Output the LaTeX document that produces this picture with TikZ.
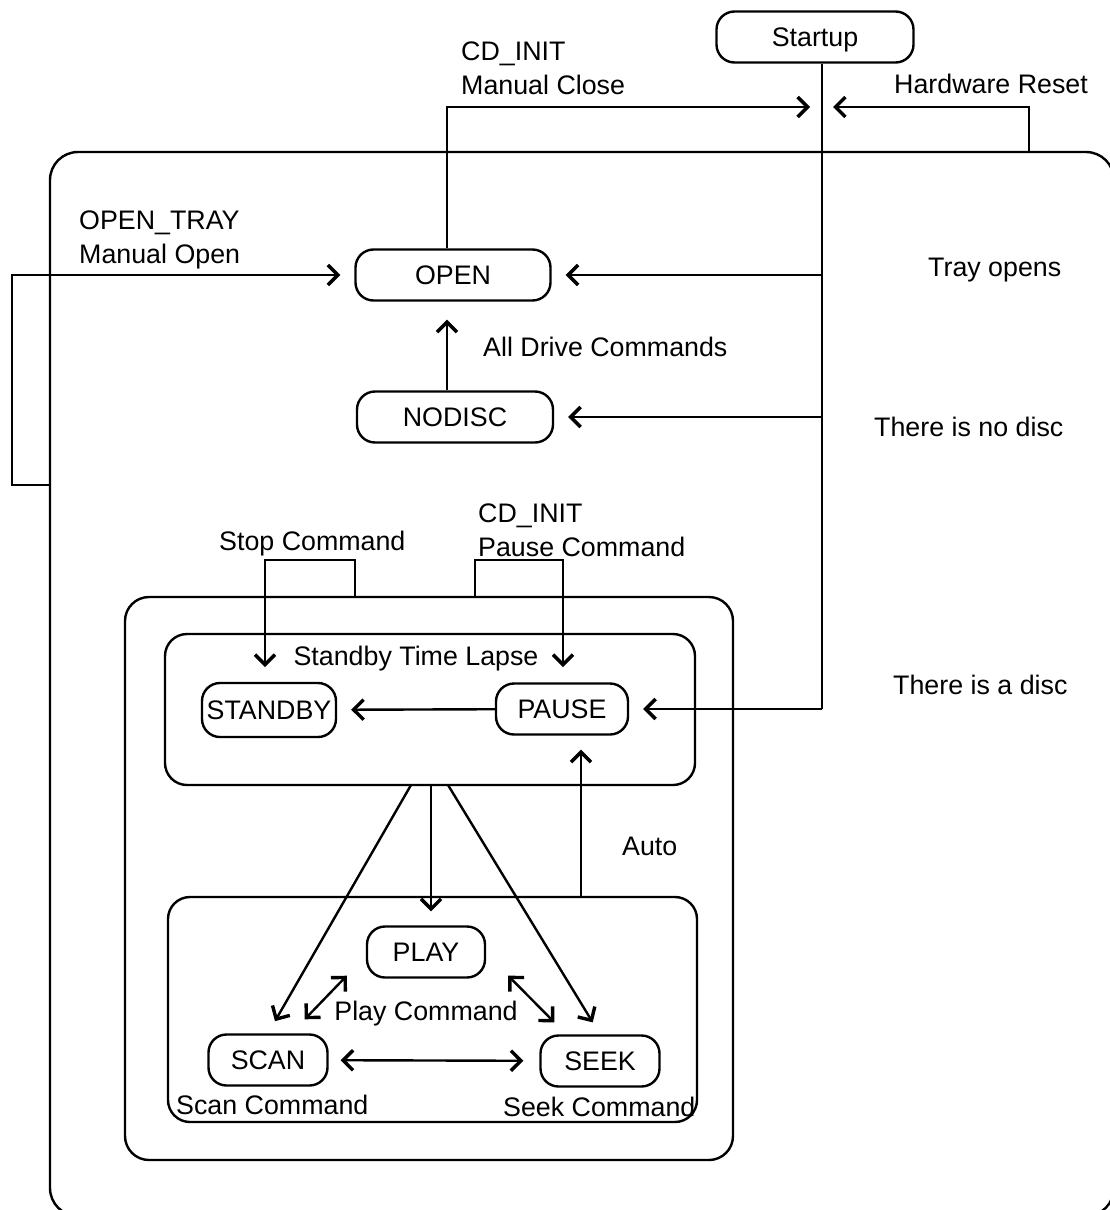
\documentclass[tikz,border=0pt]{standalone}
\usepackage{fontspec}
\setmainfont{Liberation Sans}
\usetikzlibrary{arrows.meta}

\begin{document}
\begin{tikzpicture}[x=0.5pt,y=-0.5pt,line width=1.2pt,
    >={Straight Barb[length=5pt,width=10pt,line width=1.7pt]},
    every node/.style={font=\fontsize{13.4}{17}\selectfont,inner sep=0pt},
    state/.style={draw,rounded corners=9pt,minimum height=25.5pt,
      text height=9.6pt,text depth=0pt},
    txt/.style={anchor=base west},
    gap/.style={shorten >=7pt}]
  \useasboundingbox (0,0) rectangle (1109,1210);
  % nested regions
  \draw[rounded corners=14pt] (50,152) rectangle (1114,1216);
  \draw[rounded corners=12pt] (125,597) rectangle (733,1160);
  \draw[rounded corners=11pt] (165,634) rectangle (695,785);
  \draw[rounded corners=11pt] (168,897) rectangle (697,1122);
  % states
  \node[state,minimum width=98.5pt] (startup) at (815,37) {Startup};
  \node[state,minimum width=97.5pt] (open) at (453,275) {OPEN};
  \node[state,minimum width=98pt] (nodisc) at (455,417) {NODISC};
  \node[state,minimum width=67pt,minimum height=27pt] (standby) at (269,710) {STANDBY};
  \node[state,minimum width=66pt] (pause) at (562,709) {PAUSE};
  \node[state,minimum width=59pt] (play) at (426,952) {PLAY};
  \node[state,minimum width=59.5pt] (scan) at (268,1060) {SCAN};
  \node[state,minimum width=59.5pt] (seek) at (600,1061) {SEEK};
  % free ends
  \coordinate (bus) at (822,709);
  \coordinate (merge) at (822,107);
  \coordinate (reset) at (1029,152);
  \coordinate (tray) at (50,485);
  \coordinate (stop) at (265,667);
  \coordinate (hold) at (563,667);
  \coordinate (auto) at (581,897);
  % connectors
  \draw (startup.south -| bus) -- (bus);
  \draw[->,shorten >=6pt] ([xshift=-3pt]open.north) |- (merge);
  \draw[->,shorten >=5.5pt] (reset) |- (merge);
  \draw[->,gap] (tray) -- (12,485) |- (open);
  \draw[->,gap] (bus |- open) -- (open);
  \draw[->,gap] (bus |- nodisc) -- (nodisc);
  \draw[->,gap] (bus) -- (pause);
  \draw[->,shorten >=9pt] ([xshift=-4pt]nodisc.north) -- ([xshift=-3pt]open.south);
  \draw[->] (355,597) |- (265,560) -- (stop);
  \draw[->] (475,597) |- (563,560) -- (hold);
  \draw[->,gap] (pause) -- (standby);
  \draw[->,gap] (411,785) -- (scan.north);
  \draw[->,gap] (431,785) -- (play.north -| 431,0);
  \draw[->,gap] (448,785) -- (seek.north);
  \draw[->,gap] (auto) -- (auto |- pause.south);
  \draw[<->] ([shift={(-24,-14)}]scan.north east) -- ([shift={(-19,-3)}]play.south west);
  \draw[<->] ([shift={(22,-3)}]play.south east) -- ([shift={(15,-12)}]seek.north west);
  \draw[<->,shorten <=6pt,shorten >=8pt] (scan) -- (seek);
  % labels
  \node[anchor=north west,align=left] (closelbl) at (460,41) {CD\_INIT\\Manual Close};
  \node[anchor=north west,align=left] (traylbl) at (78,210) {OPEN\_TRAY\\Manual Open};
  \node[anchor=north west,align=left] (pauselbl) at (477,503) {CD\_INIT\\Pause Command};
  \node[txt] (hwlbl) at (893,93.6) {Hardware Reset};
  \node[txt] (opens) at (927,276.6) {Tray opens};
  \node[txt] (drive) at (482,356.6) {All Drive Commands};
  \node[txt] (nodisclbl) at (873,436.6) {There is no disc};
  \node[txt] (stoplbl) at (218,550.6) {Stop Command};
  \node[anchor=base] (lapse) at (416,665.6) {Standby Time Lapse};
  \node[txt] (disclbl) at (892,694.6) {There is a disc};
  \node[txt] (autolbl) at (621,855.6) {Auto};
  \node[anchor=base] (playlbl) at (426,1020.6) {Play Command};
  \node[txt] (scanlbl) at (175,1114.6) {Scan Command};
  \node[txt] (seeklbl) at (502,1116.6) {Seek Command};
\end{tikzpicture}
\end{document}
